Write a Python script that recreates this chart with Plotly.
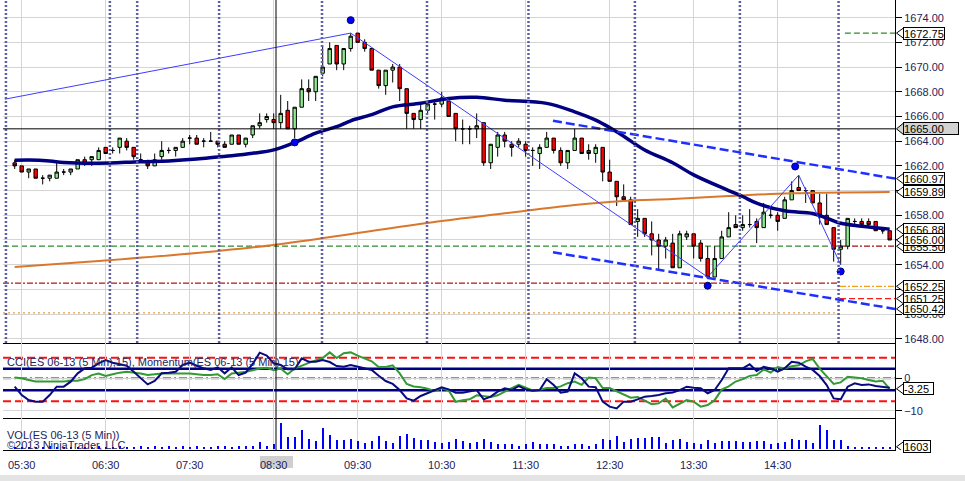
import plotly.graph_objects as go

# 5 minute bars, index 0 = 05:25
tick_bars = [1, 13, 25, 37, 49, 61, 73, 85, 97, 109]
tick_text = ["05:30", "06:30", "07:30", "08:30", "09:30", "10:30", "11:30", "12:30", "13:30", "14:30"]
price_ticks = [1648, 1650, 1652, 1654, 1656, 1658, 1660, 1662, 1664, 1666, 1668, 1670, 1672, 1674]
# 1656 and 1660 sit fully under the value tags in the original
price_tick_text = ["1648.00", "1650.00", "1652.00", "1654.00", "", "1658.00", "", "1662.00",
                   "1664.00", "1666.00", "1668.00", "1670.00", "1672.00", "1674.00"]

opens = [1662.25, 1662.0, 1661.5, 1661.75, 1661.0, 1661.0, 1661.0, 1661.5, 1661.5, 1661.75,
         1662.5, 1662.5, 1662.5, 1663.5, 1663.25, 1663.5, 1664.0, 1663.5, 1662.5, 1662.25,
         1662.0, 1662.75, 1663.25, 1663.25, 1663.5, 1664.25, 1664.25, 1664.0, 1664.0, 1664.0,
         1663.75, 1663.75, 1664.5, 1663.75, 1664.5, 1665.25, 1665.75, 1665.75, 1665.5, 1666.5,
         1665.0, 1666.75, 1668.25, 1668.0, 1669.5, 1670.25, 1671.75, 1670.25, 1671.5, 1672.75,
         1672.0, 1671.5, 1669.75, 1668.5, 1669.75, 1670.0, 1668.25, 1666.25, 1665.75, 1666.5,
         1667.0, 1667.0, 1667.25, 1666.25, 1665.0, 1665.0, 1665.0, 1665.5, 1662.25, 1663.5,
         1664.5, 1663.75, 1663.75, 1663.75, 1663.25, 1663.0, 1663.5, 1664.25, 1663.25, 1662.25,
         1663.25, 1664.25, 1663.25, 1663.0, 1663.5, 1661.5, 1660.75, 1659.5, 1659.25, 1657.5,
         1657.75, 1656.5, 1656.0, 1655.5, 1655.75, 1653.75, 1656.25, 1656.5, 1655.75, 1654.5,
         1653.0, 1654.5, 1656.25, 1657.25, 1657.0, 1657.25, 1657.5, 1657.0, 1658.0, 1658.0,
         1657.75, 1659.25, 1660.25, 1660.0, 1660.0, 1659.0, 1658.0, 1657.0, 1655.25, 1655.5,
         1657.5, 1657.5, 1657.5, 1657.5, 1656.75, 1656.75]
highs = [1662.5, 1662.0, 1661.75, 1661.75, 1661.25, 1661.25, 1662.25, 1661.75, 1661.75, 1662.5,
         1662.75, 1662.75, 1663.5, 1663.5, 1663.5, 1664.25, 1664.25, 1663.5, 1663.0, 1662.5,
         1663.0, 1664.0, 1663.5, 1663.5, 1664.25, 1664.5, 1664.5, 1664.25, 1664.75, 1664.0,
         1664.0, 1664.5, 1664.5, 1664.25, 1665.25, 1666.25, 1666.25, 1666.25, 1667.75, 1667.25,
         1666.75, 1669.0, 1669.0, 1669.25, 1671.75, 1672.0, 1671.75, 1671.5, 1672.75, 1672.75,
         1672.25, 1671.5, 1669.75, 1669.75, 1670.25, 1670.25, 1668.25, 1666.25, 1667.0, 1667.0,
         1667.25, 1668.0, 1667.25, 1666.25, 1665.75, 1665.25, 1666.25, 1665.5, 1663.75, 1664.75,
         1664.75, 1664.0, 1664.25, 1664.0, 1663.5, 1663.75, 1664.75, 1664.25, 1663.5, 1663.25,
         1665.0, 1664.25, 1663.75, 1663.75, 1663.5, 1662.5, 1660.75, 1660.5, 1659.5, 1658.5,
         1657.75, 1657.5, 1656.5, 1656.25, 1656.5, 1656.75, 1656.75, 1656.5, 1656.0, 1655.5,
         1655.5, 1656.75, 1658.25, 1658.0, 1658.0, 1658.5, 1657.75, 1659.0, 1658.75, 1658.25,
         1659.5, 1660.75, 1661.25, 1660.25, 1660.0, 1659.75, 1659.75, 1657.0, 1656.0, 1657.75,
         1657.75, 1657.75, 1657.75, 1657.5, 1657.0, 1656.75]
lows = [1661.75, 1661.5, 1661.0, 1661.0, 1660.5, 1660.75, 1661.0, 1661.25, 1661.25, 1661.75,
        1662.0, 1662.0, 1662.5, 1663.0, 1663.0, 1663.0, 1663.25, 1662.5, 1662.25, 1661.75,
        1662.0, 1662.5, 1663.0, 1662.75, 1663.5, 1663.75, 1663.75, 1663.5, 1664.0, 1663.5,
        1663.5, 1663.75, 1663.75, 1663.5, 1664.25, 1665.0, 1665.5, 1665.0, 1665.0, 1665.0,
        1664.25, 1666.75, 1667.25, 1667.25, 1669.25, 1670.25, 1669.75, 1669.75, 1671.25, 1672.0,
        1671.25, 1669.75, 1668.25, 1667.75, 1668.75, 1667.25, 1665.0, 1665.0, 1665.0, 1666.25,
        1665.75, 1666.75, 1666.0, 1664.0, 1663.75, 1663.75, 1664.25, 1662.0, 1661.75, 1662.75,
        1663.5, 1662.75, 1663.5, 1662.75, 1662.0, 1661.75, 1663.5, 1663.0, 1662.0, 1661.75,
        1663.25, 1663.0, 1662.5, 1662.25, 1660.75, 1660.75, 1658.75, 1659.25, 1657.25, 1656.25,
        1656.25, 1654.75, 1653.5, 1654.5, 1653.75, 1653.75, 1656.0, 1654.5, 1654.25, 1653.0,
        1653.0, 1654.5, 1656.25, 1657.0, 1656.75, 1657.0, 1655.75, 1657.0, 1657.75, 1656.75,
        1657.75, 1659.25, 1660.0, 1659.0, 1659.0, 1657.25, 1657.25, 1654.25, 1654.0, 1655.25,
        1657.25, 1657.25, 1657.0, 1656.75, 1656.5, 1656.0]
closes = [1662.0, 1661.5, 1661.75, 1661.0, 1661.0, 1661.25, 1661.5, 1661.5, 1661.75, 1662.5,
          1662.25, 1662.75, 1663.25, 1663.0, 1663.25, 1664.25, 1663.5, 1662.75, 1662.5, 1662.0,
          1662.5, 1663.25, 1663.25, 1663.5, 1664.0, 1664.25, 1663.75, 1664.0, 1664.0, 1663.75,
          1663.5, 1664.5, 1663.75, 1664.25, 1665.25, 1665.5, 1666.0, 1665.5, 1666.25, 1665.0,
          1666.75, 1668.25, 1668.0, 1669.25, 1670.0, 1671.5, 1670.25, 1671.5, 1672.5, 1672.0,
          1671.5, 1669.75, 1668.5, 1669.75, 1670.0, 1668.25, 1666.25, 1665.75, 1666.5, 1667.0,
          1667.0, 1667.5, 1666.0, 1665.0, 1665.0, 1665.0, 1665.25, 1662.25, 1663.75, 1664.5,
          1664.0, 1663.5, 1664.0, 1663.25, 1663.25, 1663.5, 1664.25, 1663.25, 1662.25, 1663.25,
          1664.25, 1663.0, 1663.0, 1663.5, 1661.5, 1660.75, 1659.5, 1659.25, 1657.25, 1657.75,
          1656.5, 1656.0, 1655.5, 1656.0, 1653.75, 1656.5, 1656.5, 1655.5, 1654.5, 1653.0,
          1654.5, 1656.25, 1657.0, 1657.0, 1657.25, 1657.25, 1657.0, 1658.25, 1658.0, 1657.5,
          1659.25, 1660.0, 1660.0, 1660.0, 1659.0, 1658.0, 1657.25, 1655.25, 1655.5, 1657.75,
          1657.5, 1657.25, 1657.25, 1656.75, 1656.75, 1656.0]

# slow (orange) and fast (navy) averages
slow_ma_bars = [0, 12, 26, 37, 50, 61, 70, 80, 87, 94, 102, 111, 125]
slow_ma_vals = [1653.81, 1654.30, 1654.95, 1655.60, 1656.65, 1657.54, 1658.16, 1658.83,
                1659.16, 1659.32, 1659.56, 1659.78, 1659.89]
fast_ma_bars = [0, 2, 5, 7, 12, 18, 22, 26, 29, 31, 34, 37, 40, 43, 46, 48, 51, 54, 58,
                62, 66, 70, 76, 80, 83, 85, 87, 90, 94, 97, 102, 104, 106, 110, 114, 116,
                118, 121, 125]
fast_ma_vals = [1662.45, 1662.48, 1662.40, 1662.27, 1662.21, 1662.34, 1662.40, 1662.55,
                1662.72, 1662.82, 1663.02, 1663.30, 1663.90, 1664.65, 1665.17, 1665.65,
                1666.15, 1666.78, 1667.07, 1667.46, 1667.55, 1667.32, 1667.06, 1666.38,
                1665.71, 1665.10, 1664.40, 1663.29, 1662.25, 1661.27, 1660.00, 1659.52,
                1658.98, 1658.36, 1658.15, 1657.77, 1657.35, 1657.12, 1656.88]

zigzag_bars = [-1.4, 48, 99, 112, 118]
zigzag_vals = [1667.4, 1672.75, 1653.0, 1661.25, 1654.0]
swing_bars = [40, 48, 99, 111.5, 118]
swing_vals = [1663.9, 1673.8, 1652.3, 1661.95, 1653.45]
channel_bars = [76.9, 125.76]
channel_upper = [1665.65, 1660.97]
channel_lower = [1655.0, 1650.42]
marker_bars = [-1.25, 13.6, 17.5, 29.2, 43.9, 58.9, 73.4, 88.6, 103.6, 117.7]

cci = [-66, -143, -189, -204, -204, -143, -66, -66, -20, 57,
       103, 109, 149, 180, 155, 143, 127, 72, 11, -45,
       -14, 57, 63, 72, 134, 155, 127, 103, 88, 112,
       57, 112, 41, 63, 143, 247, 220, 149, 134, 94,
       94, 195, 164, 164, 180, 161, 124, 118, 134, 118,
       103, 88, 35, -14, -41, -97, -174, -195, -152, -127,
       -97, -72, -91, -121, -121, -112, -97, -183, -158, -112,
       -81, -97, -60, -91, -103, -97, 2, -51, -121, -112,
       57, 11, -66, -72, -204, -250, -266, -204, -204, -183,
       -158, -152, -143, -127, -121, -97, -66, -75, -81, -127,
       -97, -5, 103, 103, 103, 140, 78, 118, 103, 72,
       103, 164, 155, 118, 88, 32, -51, -174, -183, -66,
       -35, -51, -45, -60, -66, -75]
momentum = [0.25, 0, -0.5, -1, -1, -1, -1, -1, -0.75, -0.75,
            -0.25, 1, 1.5, 0.75, 1.25, 1.75, 2, 1.75, 1.5, 1,
            1.25, 1.5, 1.5, 1.5, 1.5, 1.5, 1.25, 1, 1, 1.25,
            -0.25, 1.5, 1.75, 2, 2.5, 3, 3.25, 2.5, 3, 1.25,
            3, 4, 4.75, 5.5, 6.25, 8, 6.25, 7.75, 8, 7,
            6, 5.25, 3.5, 3.5, 4, 1.5, -1.75, -2.5, -2.75, -3.25,
            -4, -3, -3.75, -7.25, -6.75, -6.5, -5.25, -5.5, -5.75, -5.25,
            -4, -3, -2, -3, -3.75, -3.5, -3, -3, -2.5, -1.5,
            -1, -2, 0.25, 0, -3, -3, -4, -4.75, -6, -5.75,
            -7, -8, -7.75, -6.25, -9, -7.75, -6.75, -7.25, -8.75, -8.25,
            -6.75, -3.5, -2.5, -1, -0.25, 0.75, 1, 2.75, 1.75, 3.5,
            3, 3.75, 4, 5.25, 6, 3, 0.5, -1.75, -1.25, 0.5,
            0.25, 0, -0.5, -1, -0.75, -3.25]
volume = [1900, 2300, 1700, 2100, 1800, 2500, 2000, 1600, 2200, 1900,
          2400, 2100, 2700, 2300, 1800, 2600, 2200,
          2400, 2500, 2300, 2500, 2400, 2600, 2300, 2500, 2400, 2500,
          2400, 2300, 2500, 2600, 2400, 3000, 2600, 2500,
          7100, 3500, 5300, 27300, 12400, 12400, 20500, 9900, 8100, 22000,
          14200, 8900, 8900, 9900, 7800, 6000, 7800, 13100, 7800, 6000,
          13100, 15900, 11700, 8900, 8900, 7100, 6000, 7100, 10600, 8100,
          6000, 7100,
          9900, 7100, 5300, 5300, 4600, 3500, 4600, 7100, 5300, 5300,
          4600, 3500, 3500, 5300, 4600, 3500, 5300, 9900, 8900, 13100,
          7100, 9900, 11700, 11700, 12400, 12400, 6000, 9600, 9900, 7100,
          6000, 4600, 8900, 6000, 7800, 7800, 7800, 7100, 7100, 7800,
          7800, 5300, 6000, 7100, 9900, 8900, 8900, 6000, 24800, 20500,
          8900, 9600, 3500, 1400, 1400, 1400, 1400, 1400, 1603]

# price levels: (value, from bar, to bar, colour, dash)
levels = [
    (1655.5, -1.67, 117.6, "#2e8b2e", "6px,3px"),
    (1655.5, 117.9, 125.76, "#a01010", "6px,2px,2px,2px"),
    (1652.5, -1.67, 117.6, "#b01818", "6px,2px,2px,2px"),
    (1652.25, 117.9, 125.76, "#f0a020", "6px,2px,2px,2px"),
    (1651.25, 117.9, 125.76, "#ff1a1a", "6px,3px"),
    (1650.1, -1.67, 117.6, "#e8a040", "2px,3px"),
    (1672.75, 118.6, 125.76, "#2e8b2e", "6px,3px"),
]
price_labels = [(1672.75, "white"), (1660.97, "white"), (1659.89, "white"),
                (1655.50, "white"), (1656.88, "white"), (1656.00, "white"),
                (1652.25, "white"), (1651.25, "white"), (1650.42, "white")]
crosshair_bar = 37.33
crosshair_price = 1665.00
last_momentum = -3.25
last_volume = 1603

FONT = "Liberation Sans"
TXT = "#24245a"
GRID = "#d4d4d4"
H = 450.0


def py(px):
    return (H - px) / H


def px_x(px):
    return (px - 3) / 892.0


bars = list(range(len(closes)))
fig = go.Figure()

fig.add_trace(go.Candlestick(
    x=bars, open=opens, high=highs, low=lows, close=closes,
    increasing=dict(line=dict(color="black", width=1), fillcolor="#90ee90"),
    decreasing=dict(line=dict(color="black", width=1), fillcolor="#ff0000"),
    whiskerwidth=0, xaxis="x", yaxis="y", hoverinfo="skip"))
fig.add_trace(go.Scatter(x=slow_ma_bars, y=slow_ma_vals, mode="lines",
                         line=dict(color="#d9782d", width=2, shape="spline"), xaxis="x", yaxis="y"))
fig.add_trace(go.Scatter(x=fast_ma_bars, y=fast_ma_vals, mode="lines",
                         line=dict(color="#000080", width=3.5, shape="spline"), xaxis="x", yaxis="y"))
fig.add_trace(go.Scatter(x=zigzag_bars, y=zigzag_vals, mode="lines",
                         line=dict(color="#3d3dff", width=1), xaxis="x", yaxis="y"))
for vals in (channel_upper, channel_lower):
    fig.add_trace(go.Scatter(x=channel_bars, y=vals, mode="lines",
                             line=dict(color="#1f2fff", width=2.5, dash="9px,4px"), xaxis="x", yaxis="y"))
fig.add_trace(go.Scatter(x=swing_bars, y=swing_vals, mode="markers",
                         marker=dict(size=7, color="#0000ff", line=dict(color="#000060", width=1)),
                         xaxis="x", yaxis="y"))

fig.add_trace(go.Scatter(x=bars, y=momentum, mode="lines",
                         line=dict(color="#339933", width=2), xaxis="x2", yaxis="y2"))
fig.add_trace(go.Scatter(x=bars, y=cci, mode="lines",
                         line=dict(color="#0a0a80", width=2), xaxis="x2", yaxis="y3"))
fig.add_trace(go.Bar(x=bars, y=volume, width=0.3, marker=dict(color="#0000ff", line=dict(width=0)),
                     xaxis="x3", yaxis="y4"))

shapes = []
for b in marker_bars:
    shapes.append(dict(type="line", xref="x", yref="y domain", x0=b, x1=b, y0=0, y1=1,
                       line=dict(color="#6060a8", width=2.5, dash="2px,2px"), layer="above"))
for val, b0, b1, col, dash in levels:
    shapes.append(dict(type="line", xref="x", yref="y", x0=b0, x1=b1, y0=val, y1=val,
                       line=dict(color=col, width=1.3, dash=dash), layer="below"))
shapes.append(dict(type="line", xref="paper", yref="y", x0=0, x1=1, y0=crosshair_price,
                   y1=crosshair_price, line=dict(color="black", width=1), layer="above"))
shapes.append(dict(type="line", xref="x", yref="paper", x0=crosshair_bar, x1=crosshair_bar,
                   y0=0, y1=1, line=dict(color="black", width=1), layer="above"))
# CCI / momentum guide lines
for lvl in (200, -200):
    shapes.append(dict(type="line", xref="paper", yref="y3", x0=0, x1=1, y0=lvl, y1=lvl,
                       line=dict(color="#ff1010", width=2, dash="8px,4px"), layer="below"))
for lvl in (100, -100):
    shapes.append(dict(type="line", xref="paper", yref="y3", x0=0, x1=1, y0=lvl, y1=lvl,
                       line=dict(color="#000080", width=2.5), layer="below"))
shapes.append(dict(type="line", xref="paper", yref="y2", x0=0, x1=1, y0=0, y1=0,
                   line=dict(color="#2e9b2e", width=2, dash="8px,3px,2px,3px"), layer="below"))
# 08:30 crosshair tag and scroll strip
shapes.append(dict(type="rect", xref="paper", yref="paper", x0=px_x(260), x1=px_x(293),
                   y0=py(468), y1=py(456), fillcolor="#cfcfcf", line=dict(width=0), layer="below"))
shapes.append(dict(type="rect", xref="paper", yref="paper", x0=px_x(0), x1=px_x(965),
                   y0=py(481), y1=py(475), fillcolor="#e4e4e4", line=dict(width=0), layer="below"))

annotations = []


def value_tag(val, yref, half, text, width, bg="white"):
    shapes.append(dict(type="path", xref="paper", yref=yref,
                       path=f"M {px_x(896.5)},{val} L {px_x(904)},{val + half} "
                            f"L {px_x(904)},{val - half} Z",
                       fillcolor=bg, line=dict(color="black", width=1), layer="above"))
    annotations.append(dict(xref="paper", yref=yref, x=px_x(903), y=val, text=text,
                            xanchor="left", yanchor="middle", showarrow=False, align="left",
                            width=width, height=11, bgcolor=bg, bordercolor="black",
                            borderwidth=1, borderpad=0, font=dict(family=FONT, size=11, color="black")))


for val, bg in price_labels:
    value_tag(val, "y", 0.445, f"{val:.2f}", 40, bg)
value_tag(crosshair_price, "y", 0.5, f"{crosshair_price:.2f}", 54, "#d3d3d3")
value_tag(last_momentum, "y2", 1.7, f"{last_momentum:.2f}", 29)
value_tag(last_volume, "y4", 5800, f"{last_volume}", 26)

for txt, y in [("CCI(ES 06-13 (5 Min),15), Momentum(ES 06-13 (5 Min),15)", 361.5),
               ("VOL(ES 06-13 (5 Min))", 434.5), ("©2013 NinjaTrader, LLC", 444.5)]:
    annotations.append(dict(xref="paper", yref="paper", x=px_x(5), y=py(y), text=txt,
                            xanchor="left", yanchor="middle", showarrow=False,
                            font=dict(family=FONT, size=11, color=TXT)))

xcommon = dict(range=[-1.67, 125.76], tickvals=tick_bars, showgrid=True, gridcolor=GRID,
               zeroline=False, showline=True, linecolor="black", linewidth=1, ticks="")
fig.update_layout(
    width=965, height=481,
    margin=dict(l=3, r=70, t=0, b=31),
    paper_bgcolor="white", plot_bgcolor="white",
    showlegend=False, bargap=0,
    font=dict(family=FONT, size=11, color=TXT),
    xaxis=dict(xcommon, anchor="y", showticklabels=False, rangeslider=dict(visible=False)),
    xaxis2=dict(xcommon, anchor="y2", matches="x", showticklabels=False),
    xaxis3=dict(xcommon, anchor="y4", matches="x", ticktext=tick_text, showticklabels=True,
                ticklabelstandoff=5, tickfont=dict(family=FONT, size=11, color=TXT)),
    yaxis=dict(domain=[0.23778, 1], range=[1647.66, 1675.43], side="right", anchor="x",
               tickvals=price_ticks, ticktext=price_tick_text, ticks="outside", ticklen=6,
               tickcolor="black", showgrid=True, gridcolor=GRID, zeroline=False,
               showline=True, linecolor="black", tickfont=dict(family=FONT, size=11, color=TXT)),
    yaxis2=dict(domain=[0.07222, 0.23778], range=[-12.10, 10.90], side="right", anchor="x2",
                tickvals=[-10, 0], ticks="outside", ticklen=6, tickcolor="black",
                showgrid=True, gridcolor=GRID, zeroline=False, showline=True, linecolor="black",
                tickfont=dict(family=FONT, size=11, color=TXT)),
    yaxis3=dict(range=[-350.2, 336.4], overlaying="y2", anchor="x2", side="right",
                visible=False),
    yaxis4=dict(domain=[0, 0.07222], range=[-1805, 32710], side="right", anchor="x3",
                showticklabels=False, showgrid=False, zeroline=False, showline=True,
                linecolor="black", ticks=""),
    shapes=shapes,
    annotations=annotations,
)

# page body margin would push the chart 8px right/down
fig.write_html("out.html", config={"displayModeBar": False},
               post_script="document.body.style.margin='0px';")
